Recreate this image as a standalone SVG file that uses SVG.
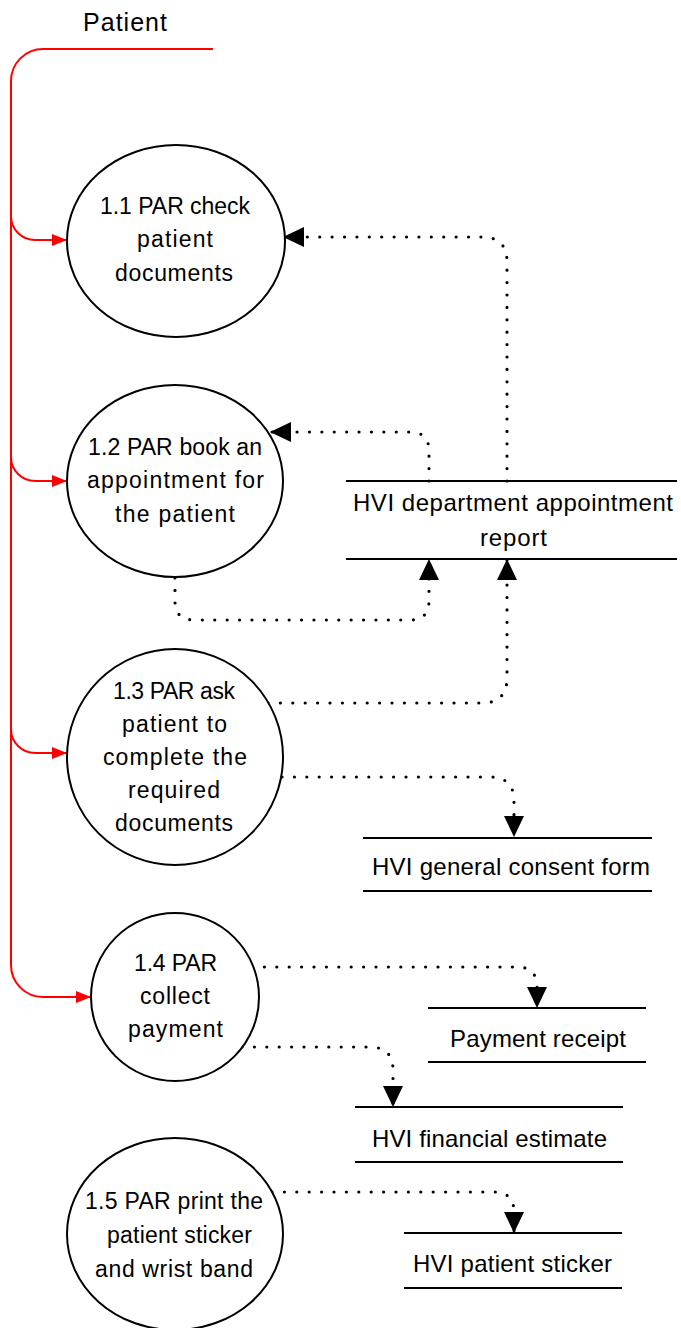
<svg xmlns="http://www.w3.org/2000/svg" width="681" height="1328" viewBox="0 0 681 1328">
<style>
text{font-family:"Liberation Sans",Arial,sans-serif;fill:#000}
.c{font-size:23px}
.s{font-size:24px}
.p{font-size:25px}
ellipse{fill:#fff;stroke:#000;stroke-width:2}
.st{stroke:#000;stroke-width:2;fill:none}
.red{stroke:#f00;stroke-width:2;fill:none}
.dot{stroke:#000;stroke-width:3.2;fill:none;stroke-linecap:round;stroke-dasharray:0 12.4}
</style>
<defs>
<marker id="ab" markerUnits="userSpaceOnUse" markerWidth="21" markerHeight="20" refX="21" refY="10" orient="auto"><path d="M0,0 L21,10 L0,20 z" fill="#000"/></marker>
<marker id="ar" markerUnits="userSpaceOnUse" markerWidth="15" markerHeight="12" refX="15" refY="6" orient="auto"><path d="M0,0 L15,6 L0,12 z" fill="#f00"/></marker>
</defs>
<g id="patient">
<text class="p" x="83" y="31" textLength="84">Patient</text>
</g>
<g id="connectors">
<path class="red" d="M213,49 H43 A32,32 0 0 0 11,81 V965 A32,32 0 0 0 43,997 H91" marker-end="url(#ar)"/>
<path class="red" d="M11,216 A24,24 0 0 0 35,240 H67" marker-end="url(#ar)"/>
<path class="red" d="M11,457 A24,24 0 0 0 35,481 H67" marker-end="url(#ar)"/>
<path class="red" d="M11,729 A24,24 0 0 0 35,753 H67" marker-end="url(#ar)"/>
<path class="dot" d="M507,481 V262 Q507,237 482,237 H283" marker-end="url(#ab)"/>
<path class="dot" d="M429,481 V451 Q429,432 410,432 H270" marker-end="url(#ab)"/>
<path class="dot" d="M175,578 V601 Q175,620 194,620 H410 Q429,620 429,601 V559" marker-end="url(#ab)"/>
<path class="dot" d="M268,703 H482 Q507,703 507,678 V559" marker-end="url(#ab)"/>
<path class="dot" d="M282,777 H490 Q514,777 514,801 V837" marker-end="url(#ab)"/>
<path class="dot" d="M252,967 H517 Q537,967 537,987 V1008" marker-end="url(#ab)"/>
<path class="dot" d="M242,1047 H370 Q393,1047 393,1070 V1107" marker-end="url(#ab)"/>
<path class="dot" d="M272,1192 H494 Q514,1192 514,1212 V1233" marker-end="url(#ab)"/>
</g>
<g id="p1_1">
<ellipse cx="176" cy="241" rx="109" ry="96"/>
<text class="c" x="100" y="214" textLength="150">1.1 PAR check</text>
<text class="c" x="137" y="247" textLength="76">patient</text>
<text class="c" x="115" y="281" textLength="118">documents</text>
</g>
<g id="p1_2">
<ellipse cx="175" cy="481" rx="108" ry="96"/>
<text class="c" x="88" y="455" textLength="174">1.2 PAR book an</text>
<text class="c" x="87" y="488" textLength="177">appointment for</text>
<text class="c" x="115" y="522" textLength="120">the patient</text>
</g>
<g id="p1_3">
<ellipse cx="175" cy="757" rx="108" ry="108"/>
<text class="c" x="113" y="699" textLength="122">1.3 PAR ask</text>
<text class="c" x="122" y="732" textLength="105">patient to</text>
<text class="c" x="103" y="765" textLength="144">complete the</text>
<text class="c" x="128" y="798" textLength="92">required</text>
<text class="c" x="115" y="831" textLength="118">documents</text>
</g>
<g id="p1_4">
<ellipse cx="175" cy="997" rx="84" ry="84"/>
<text class="c" x="134" y="971" textLength="83">1.4 PAR</text>
<text class="c" x="140" y="1004" textLength="70">collect</text>
<text class="c" x="128" y="1037" textLength="95">payment</text>
</g>
<g id="p1_5">
<ellipse cx="175" cy="1234" rx="108" ry="96"/>
<text class="c" x="85" y="1209" textLength="178">1.5 PAR print the</text>
<text class="c" x="107" y="1243" textLength="145">patient sticker</text>
<text class="c" x="95" y="1277" textLength="158">and wrist band</text>
</g>
<g id="ds_appointment">
<path class="st" d="M346,481 H677 M346,559 H677"/>
<text class="s" x="353" y="511" textLength="320">HVI department appointment</text>
<text class="s" x="480" y="546" textLength="67">report</text>
</g>
<g id="ds_consent">
<path class="st" d="M363,838 H652 M363,891 H652"/>
<text class="s" x="372" y="875" textLength="278">HVI general consent form</text>
</g>
<g id="ds_receipt">
<path class="st" d="M428,1008 H646 M428,1062 H646"/>
<text class="s" x="450" y="1047" textLength="176">Payment receipt</text>
</g>
<g id="ds_estimate">
<path class="st" d="M355,1107 H623 M355,1162 H623"/>
<text class="s" x="372" y="1147" textLength="235">HVI financial estimate</text>
</g>
<g id="ds_sticker">
<path class="st" d="M404,1233 H622 M404,1288 H622"/>
<text class="s" x="413" y="1272" textLength="199">HVI patient sticker</text>
</g>
</svg>
